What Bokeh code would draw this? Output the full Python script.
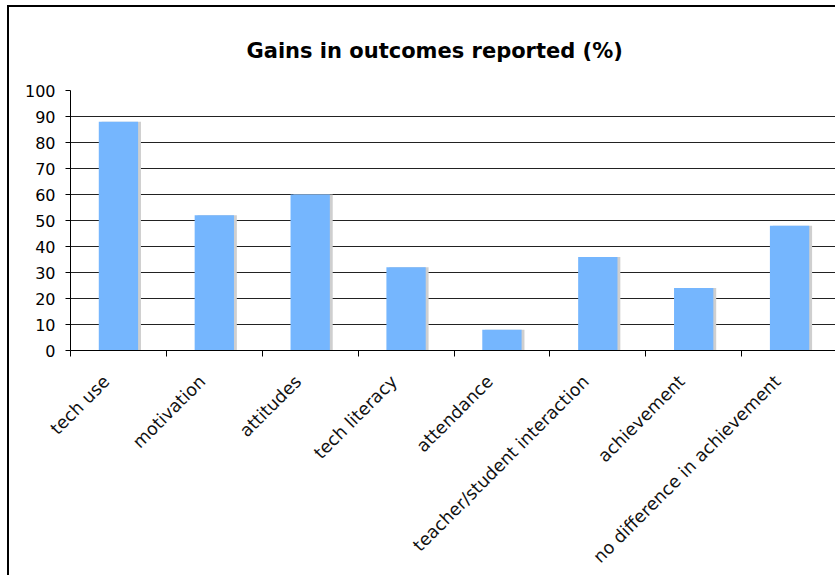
import numpy as np
from bokeh.plotting import figure
from bokeh.models import FixedTicker, Grid, ColumnDataSource
from bokeh.embed import file_html
from bokeh.resources import INLINE

categories = ["tech use", "motivation", "attitudes", "tech literacy", "attendance",
              "teacher/student interaction", "achievement", "no difference in achievement"]
values = [88, 52, 60, 32, 8, 36, 24, 48]
y_ticks = [0, 10, 20, 30, 40, 50, 60, 70, 80, 90, 100]
title_text = "Gains in outcomes reported (%)"

n = len(categories)
centers = [i + 0.5 for i in range(n)]
boundaries = list(range(n + 1))
label_shift = -0.125
label_pos = [c + label_shift for c in centers]

p = figure(width=828, height=570, output_backend="svg", toolbar_location=None,
           x_range=(0, n), y_range=(0, 100),
           min_border_left=61, min_border_right=0, min_border_top=83, min_border_bottom=227,
           background_fill_color="white", border_fill_color="white",
           outline_line_color=None)
p.styles = {"border-left": "2px solid #000000", "border-top": "2px solid #000000",
            "margin-left": "7px", "margin-top": "5px"}

p.title.text = title_text
p.title.align = "left"
p.title.offset = 176
p.title.text_font = "DejaVu Sans"
p.title.text_font_size = "21px"
p.title.text_font_style = "bold"
p.title.text_color = "#000000"
p.title.standoff = 56

src = ColumnDataSource(dict(x=centers, xs=[c + 0.03 for c in centers], top=values))
p.vbar(x="xs", top="top", width=0.41, source=src, fill_color="#cfcfcf", line_color=None)
p.vbar(x="x", top="top", width=0.41, source=src, fill_color="#75B6FE", line_color=None)

# x axis
p.xaxis.ticker = FixedTicker(ticks=label_pos, minor_ticks=boundaries)
p.xaxis.major_label_overrides = {c: lab for c, lab in zip(label_pos, categories)}
p.xaxis.major_label_orientation = np.pi / 4
p.xaxis.major_tick_out = 0
p.xaxis.major_tick_in = 0
p.xaxis.minor_tick_out = 6
p.xaxis.minor_tick_in = 0
p.xaxis.minor_tick_line_color = "#000000"
p.xaxis.axis_line_color = "#000000"
p.xaxis.major_label_text_font = "DejaVu Sans"
p.xaxis.major_label_text_font_size = "17.5px"
p.xaxis.major_label_text_color = "#111111"
p.xaxis.major_label_standoff = 22

# y axis
p.yaxis.ticker = FixedTicker(ticks=y_ticks)
p.yaxis.major_tick_out = 5
p.yaxis.major_tick_in = 0
p.yaxis.minor_tick_line_color = None
p.yaxis.axis_line_color = "#000000"
p.yaxis.major_tick_line_color = "#000000"
p.yaxis.major_label_text_font = "DejaVu Sans"
p.yaxis.major_label_text_font_size = "16px"
p.yaxis.major_label_text_color = "#000000"
p.yaxis.major_label_standoff = 10

p.xgrid.grid_line_color = None
p.ygrid.ticker = FixedTicker(ticks=y_ticks[:-1])
p.ygrid.grid_line_color = "#222222"
p.ygrid.level = "underlay"
top_grid = Grid(dimension=1, ticker=FixedTicker(ticks=y_ticks[-1:]), grid_line_color="#9a9a9a")
p.add_layout(top_grid)

open("out.html", "w").write(file_html(p, INLINE))
